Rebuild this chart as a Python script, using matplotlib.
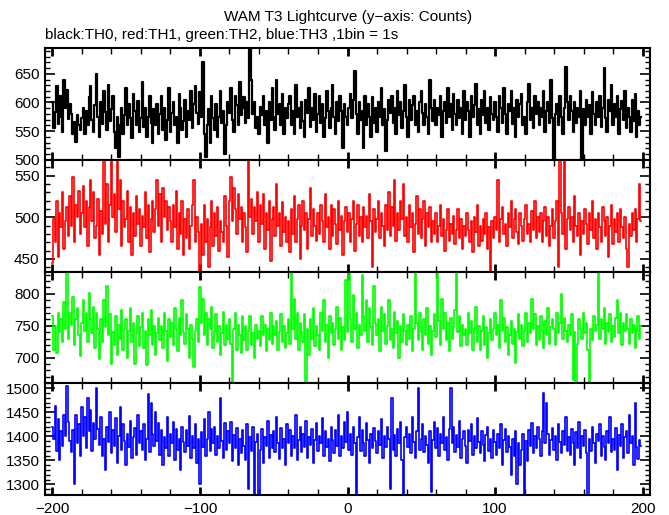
import matplotlib
matplotlib.use("Agg")
import matplotlib.pyplot as plt
import numpy as np
from matplotlib.ticker import MultipleLocator

plt.rcParams['font.family'] = ['Liberation Sans', 'DejaVu Sans']

time_start = -200
time_bin = 1

th0 = [
600, 556, 583, 628, 562, 575, 612, 548, 640, 590,
622, 571, 598, 580, 545, 566, 531, 578, 560, 552,
572, 590, 545, 585, 560, 610, 628, 570, 548, 595,
650, 575, 540, 600, 562, 620, 583, 552, 630, 568,
588, 612, 548, 520, 575, 505, 560, 590, 545, 578,
625, 560, 598, 572, 538, 615, 585, 560, 602, 548,
572, 636, 558, 590, 540, 575, 612, 565, 530, 588,
560, 598, 545, 580, 612, 552, 590, 535, 570, 625,
548, 582, 600, 560, 575, 530, 615, 590, 552, 568,
605, 540, 585, 570, 620, 555, 598, 628, 582, 562,
618, 575, 670, 545, 505, 560, 588, 530, 612, 572,
552, 598, 540, 575, 620, 565, 585, 510, 560, 600,
582, 625, 570, 548, 612, 595, 560, 635, 578, 590,
610, 565, 600, 572, 693, 640, 580, 600, 555, 575,
545, 592, 578, 612, 560, 585, 530, 600, 570, 625,
575, 552, 640, 580, 598, 560, 615, 545, 590, 572,
598, 612, 560, 585, 545, 630, 575, 590, 555, 600,
568, 540, 605, 582, 625, 558, 590, 570, 615, 548,
580, 612, 565, 598, 540, 572, 620, 585, 555, 590,
630, 575, 545, 600, 568, 612, 585, 520, 598, 575,
560, 590, 615, 572, 605, 655, 580, 545, 600, 570,
585, 520, 612, 560, 598, 575, 540, 610, 565, 590,
548, 600, 575, 625, 560, 588, 515, 570, 605, 582,
612, 565, 590, 545, 620, 578, 600, 555, 585, 630,
575, 540, 605, 570, 595, 612, 560, 585, 548, 600,
620, 582, 560, 598, 575, 545, 640, 590, 568, 605,
560, 590, 578, 612, 540, 585, 600, 565, 625, 575,
598, 552, 615, 580, 560, 605, 572, 590, 545, 620,
570, 600, 585, 540, 612, 575, 595, 632, 560, 588,
545, 605, 578, 620, 565, 590, 552, 610, 580, 570,
600, 575, 548, 612, 590, 565, 625, 580, 545, 598,
585, 620, 562, 590, 540, 605, 575, 598, 615, 560,
575, 545, 600, 632, 570, 590, 555, 612, 580, 600,
560, 590, 575, 620, 548, 585, 600, 565, 640, 572,
502, 580, 598, 560, 612, 575, 545, 590, 662, 600,
570, 612, 585, 548, 600, 565, 590, 575, 620, 502,
588, 560, 605, 575, 595, 545, 618, 580, 560, 600,
575, 612, 558, 590, 660, 572, 548, 605, 585, 630,
560, 598, 575, 612, 545, 588, 602, 570, 620, 555,
590, 575, 548, 605, 568, 615, 540, 585, 560, 575,
]

th1 = [
445, 498, 470, 520, 452, 505, 488, 530, 462, 495,
512, 478, 525, 490, 548, 470, 515, 500, 532, 480,
505, 538, 488, 520, 465, 512, 545, 495, 530, 475,
490, 522, 455, 508, 480, 580, 492, 540, 470, 515,
575, 500, 528, 482, 572, 510, 545, 465, 520, 488,
498, 532, 470, 512, 455, 505, 478, 525, 492, 510,
465, 502, 488, 530, 475, 515, 458, 498, 520, 482,
510, 545, 490, 528, 470, 535, 500, 520, 485, 512,
495, 470, 515, 488, 532, 462, 505, 480, 520, 455,
498, 475, 510, 462, 490, 515, 545, 470, 500, 482,
430, 492, 455, 515, 470, 498, 440, 488, 520, 465,
505, 478, 512, 460, 495, 482, 470, 525, 490, 452,
520, 548, 495, 535, 510, 480, 528, 498, 512, 470,
505, 488, 458, 575, 500, 522, 480, 512, 495, 530,
470, 515, 492, 528, 462, 505, 485, 520, 448, 498,
512, 478, 540, 490, 505, 465, 518, 482, 500, 470,
495, 458, 510, 480, 525, 470, 498, 515, 450, 490,
520, 485, 505, 462, 498, 535, 478, 510, 490, 472,
505, 480, 515, 495, 470, 528, 488, 500, 462, 515,
478, 510, 492, 468, 520, 485, 502, 455, 495, 512,
482, 505, 470, 498, 520, 460, 492, 515, 478, 500,
470, 512, 488, 502, 475, 528, 495, 440, 510, 482,
498, 520, 475, 505, 490, 465, 515, 485, 530, 478,
512, 490, 545, 472, 505, 485, 520, 498, 540, 478,
500, 470, 515, 488, 505, 458, 492, 525, 480, 510,
475, 498, 520, 465, 505, 488, 512, 470, 495, 480,
505, 470, 490, 515, 478, 498, 460, 485, 510, 472,
492, 480, 502, 468, 485, 510, 475, 498, 462, 490,
478, 505, 485, 470, 495, 458, 500, 482, 515, 465,
490, 472, 498, 480, 505, 462, 488, 435, 495, 475,
500, 485, 545, 470, 498, 512, 480, 492, 465, 505,
488, 520, 475, 498, 510, 482, 468, 505, 490, 472,
498, 515, 480, 492, 470, 508, 485, 520, 475, 500,
482, 505, 470, 495, 512, 478, 500, 465, 490, 510,
475, 495, 520, 440, 580, 505, 480, 575, 462, 498,
512, 485, 500, 470, 525, 490, 478, 505, 455, 495,
480, 510, 492, 468, 505, 485, 520, 475, 498, 462,
505, 488, 470, 512, 495, 478, 500, 452, 490, 515,
468, 498, 482, 505, 470, 510, 488, 475, 500, 462,
440, 492, 478, 505, 485, 510, 470, 498, 540, 495,
]

th2 = [
765, 712, 750, 708, 770, 740, 760, 725, 788, 745,
838, 730, 770, 752, 795, 720, 760, 778, 735, 702,
755, 790, 742, 770, 725, 802, 760, 738, 780, 715,
770, 745, 698, 760, 725, 790, 748, 812, 735, 768,
690, 740, 720, 765, 705, 752, 730, 775, 712, 745,
760, 700, 742, 778, 725, 755, 690, 738, 765, 718,
748, 770, 715, 742, 688, 760, 735, 775, 720, 750,
705, 738, 762, 728, 750, 715, 770, 742, 695, 760,
732, 755, 720, 778, 745, 710, 762, 735, 790, 740,
722, 768, 745, 700, 752, 730, 685, 742, 760, 725,
810, 755, 792, 735, 770, 720, 760, 745, 780, 715,
742, 768, 725, 750, 705, 738, 772, 720, 752, 730,
760, 722, 662, 745, 770, 712, 752, 735, 708, 765,
728, 750, 712, 742, 765, 720, 738, 700, 752, 730,
742, 718, 765, 735, 752, 710, 745, 728, 770, 722,
750, 735, 758, 712, 740, 768, 725, 750, 715, 738,
760, 722, 838, 745, 792, 730, 770, 712, 755, 740,
725, 768, 660, 745, 705, 760, 730, 778, 718, 750,
735, 712, 770, 742, 790, 725, 752, 700, 765, 738,
755, 720, 745, 780, 730, 762, 712, 748, 728, 822,
740, 838, 760, 725, 798, 745, 770, 715, 752, 735,
830, 765, 742, 790, 725, 778, 748, 720, 812, 755,
735, 760, 710, 780, 742, 768, 722, 750, 790, 728,
745, 715, 772, 738, 758, 700, 750, 725, 768, 742,
720, 752, 730, 765, 710, 745, 838, 755, 728, 770,
740, 712, 760, 735, 778, 722, 750, 705, 742, 768,
732, 838, 758, 720, 792, 745, 770, 728, 755, 710,
762, 730, 748, 775, 835, 740, 765, 718, 752, 735,
745, 720, 770, 738, 758, 712, 745, 780, 725, 750,
712, 742, 765, 720, 748, 700, 738, 760, 728, 745,
770, 735, 752, 715, 790, 742, 762, 725, 748, 705,
735, 758, 722, 745, 692, 740, 768, 730, 752, 718,
742, 770, 725, 755, 738, 792, 745, 768, 720, 750,
728, 765, 742, 715, 758, 735, 778, 722, 748, 760,
745, 720, 770, 738, 755, 800, 730, 762, 742, 725,
752, 735, 768, 665, 740, 658, 722, 760, 745, 730,
770, 738, 755, 712, 662, 745, 728, 765, 742, 752,
838, 730, 760, 745, 778, 722, 755, 740, 768, 725,
750, 732, 762, 790, 738, 770, 720, 755, 742, 768,
745, 722, 760, 738, 752, 715, 742, 765, 730, 750,
]

th3 = [
1420, 1395, 1462, 1370, 1435, 1350, 1410, 1380, 1445, 1400,
1505, 1430, 1390, 1368, 1412, 1300, 1445, 1385, 1425, 1360,
1460, 1400, 1440, 1375, 1480, 1410, 1455, 1370, 1428, 1395,
1500, 1415, 1382, 1440, 1360, 1395, 1330, 1420, 1388, 1450,
1365, 1412, 1380, 1438, 1345, 1400, 1460, 1372, 1425, 1390,
1340, 1405, 1378, 1432, 1355, 1398, 1418, 1362, 1445, 1385,
1410, 1372, 1425, 1350, 1395, 1488, 1368, 1470, 1405, 1380,
1450, 1390, 1428, 1362, 1412, 1340, 1398, 1375, 1440, 1360,
1405, 1385, 1430, 1350, 1415, 1372, 1395, 1330, 1420, 1388,
1368, 1412, 1380, 1442, 1355, 1400, 1375, 1425, 1345, 1395,
1300, 1408, 1378, 1435, 1360, 1395, 1450, 1370, 1415, 1385,
1420, 1362, 1400, 1375, 1480, 1390, 1355, 1428, 1372, 1410,
1385, 1430, 1348, 1402, 1375, 1418, 1340, 1395, 1365, 1412,
1380, 1350, 1425, 1290, 1398, 1370, 1420, 1270, 1388, 1405,
1275, 1372, 1415, 1345, 1398, 1380, 1432, 1355, 1402, 1375,
1410, 1368, 1440, 1385, 1352, 1418, 1375, 1395, 1340, 1425,
1385, 1412, 1360, 1400, 1375, 1445, 1350, 1392, 1420, 1368,
1405, 1378, 1432, 1355, 1398, 1382, 1415, 1345, 1392, 1428,
1370, 1400, 1385, 1438, 1360, 1410, 1378, 1395, 1348, 1420,
1392, 1365, 1412, 1380, 1445, 1358, 1400, 1375, 1430, 1388,
1450, 1372, 1405, 1362, 1420, 1385, 1275, 1398, 1440, 1370,
1412, 1385, 1360, 1428, 1392, 1345, 1405, 1375, 1418, 1390,
1365, 1410, 1382, 1435, 1355, 1400, 1378, 1420, 1395, 1290,
1480, 1372, 1402, 1360, 1415, 1385, 1430, 1350, 1275, 1398,
1420, 1378, 1405, 1365, 1440, 1388, 1355, 1410, 1500, 1372,
1395, 1425, 1368, 1400, 1382, 1345, 1410, 1285, 1392, 1430,
1375, 1418, 1360, 1405, 1385, 1440, 1372, 1398, 1350, 1415,
1500, 1385, 1420, 1368, 1402, 1378, 1432, 1355, 1395, 1410,
1380, 1345, 1412, 1390, 1425, 1362, 1400, 1375, 1438, 1388,
1365, 1410, 1382, 1348, 1402, 1420, 1370, 1395, 1355, 1412,
1388, 1362, 1405, 1375, 1425, 1340, 1392, 1415, 1368, 1400,
1378, 1320, 1395, 1360, 1410, 1300, 1385, 1340, 1372, 1405,
1275, 1390, 1348, 1412, 1380, 1428, 1365, 1400, 1375, 1420,
1395, 1358, 1410, 1490, 1385, 1470, 1405, 1362, 1392, 1418,
1372, 1400, 1350, 1425, 1388, 1365, 1410, 1382, 1440, 1370,
1398, 1362, 1415, 1385, 1340, 1408, 1375, 1430, 1355, 1400,
1380, 1412, 1365, 1275, 1395, 1370, 1420, 1385, 1345, 1405,
1390, 1425, 1360, 1400, 1378, 1350, 1410, 1385, 1440, 1368,
1395, 1372, 1418, 1330, 1402, 1380, 1425, 1355, 1398, 1410,
1365, 1445, 1385, 1400, 1340, 1468, 1378, 1352, 1392, 1380,
]

series = [th0, th1, th2, th3]
colors = ['#000000', '#ff0000', '#00ff00', '#0000ff']
ylims = [(500, 695), (435, 569), (660, 835), (1278, 1510)]
xlim = (-205, 205)

fig = plt.figure(figsize=(6.69, 5.15), dpi=100)
left, right = 45 / 669, 650 / 669
top, bottom = 1 - 48 / 515, 1 - 495 / 515
h = (top - bottom) / 4

for i, (y, c, yl) in enumerate(zip(series, colors, ylims)):
    ax = fig.add_axes([left, top - (i + 1) * h, right - left, h])
    x = time_start + np.arange(len(y)) * time_bin
    ax.plot(x, y, drawstyle='steps-mid', color=c, lw=1.6 if i == 0 else 1.2)
    ax.set_xlim(*xlim)
    ax.set_ylim(*yl)
    for s in ax.spines.values():
        s.set_linewidth(1.5)
    ax.set_xticks([-200, -100, 0, 100, 200])
    ax.xaxis.set_minor_locator(MultipleLocator(20))
    ax.yaxis.set_major_locator(MultipleLocator(50))
    ax.yaxis.set_minor_locator(MultipleLocator(10))
    ax.tick_params(axis='both', which='both', direction='in', top=True, right=True)
    ax.tick_params(axis='x', which='major', length=6, width=2)
    ax.tick_params(axis='x', which='minor', length=4, width=1)
    ax.tick_params(axis='y', which='major', length=7, width=1.2, labelsize=11, pad=4)
    ax.tick_params(axis='y', which='minor', length=3.5, width=1)
    ax.tick_params(axis='x', labelsize=11, pad=5)
    for t in ax.xaxis.get_major_ticks():
        if t.get_loc() in (-100, 100):
            t.tick1line.set_markersize(4)
            t.tick2line.set_markersize(4)
            t.tick1line.set_markeredgewidth(1)
            t.tick2line.set_markeredgewidth(1)
    if i < 3:
        ax.tick_params(axis='x', labelbottom=False)

fig.text(0.52, 1 - 17 / 515, 'WAM T3 Lightcurve (y\u2212axis: Counts)', ha='center', va='center', fontsize=11)
fig.text(45 / 669, 1 - 35 / 515, 'black:TH0, red:TH1, green:TH2, blue:TH3 ,1bin = 1s', ha='left', va='center', fontsize=11)

fig.savefig('out.png', dpi=100)
